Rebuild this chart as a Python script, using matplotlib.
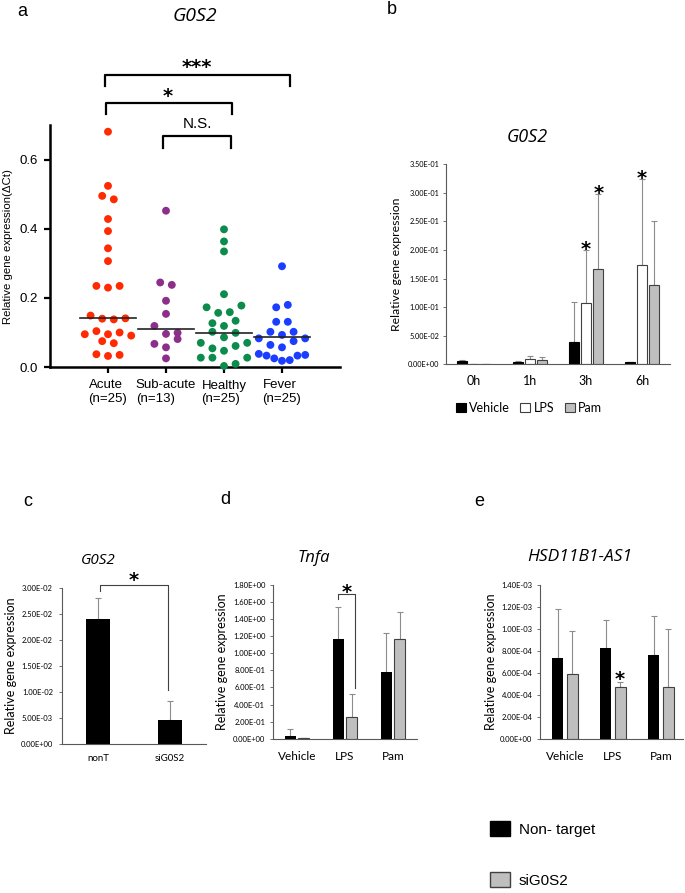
import numpy as np
import matplotlib
matplotlib.use("Agg")
import matplotlib.pyplot as plt
from matplotlib.patches import Patch
from matplotlib.ticker import FormatStrFormatter

plt.rcParams['font.family'] = ['Lato', 'DejaVu Sans']

# panel a: scatter of relative expression, listed row by row, left to right
a_labels = ['Acute\n(n=25)', 'Sub-acute\n(n=13)', 'Healthy\n(n=25)', 'Fever\n(n=25)']
a_colors = ['#ff2a00', '#8b2f8b', '#0c8c4c', '#1a3dff']
acute = [0.682, 0.525, 0.496, 0.486, 0.429, 0.394, 0.344, 0.307,
         0.235, 0.230, 0.235, 0.149, 0.140, 0.138, 0.141,
         0.095, 0.104, 0.095, 0.100, 0.091, 0.075, 0.069,
         0.037, 0.032, 0.035]
subacute = [0.453, 0.245, 0.238, 0.192, 0.154, 0.119, 0.096, 0.099,
            0.067, 0.057, 0.081, 0.025]
healthy = [0.399, 0.364, 0.335, 0.211, 0.173, 0.157, 0.159, 0.178,
           0.127, 0.119, 0.134, 0.102, 0.086, 0.099,
           0.070, 0.054, 0.047, 0.061, 0.070,
           0.027, 0.027, 0.003, 0.009, 0.027]
fever = [0.292, 0.173, 0.180, 0.131, 0.131,
         0.083, 0.102, 0.093, 0.102, 0.083, 0.064, 0.057, 0.075,
         0.038, 0.033, 0.025, 0.018, 0.020, 0.033, 0.035]
a_medians = [0.141, 0.109, 0.100, 0.088]

# panel b: time course
b_times = ['0h', '1h', '3h', '6h']
b_series = ['Vehicle', 'LPS', 'Pam']
veh = [0.0064, 0.0047, 0.0397, 0.0035]
veh_err = [0.0012, 0.0005, 0.070, 0.0]
lps = [0.0, 0.0088, 0.1068, 0.174]
lps_err = [0.0, 0.0058, 0.093, 0.150]
pam = [0.0, 0.0082, 0.1674, 0.139]
pam_err = [0.0, 0.0052, 0.130, 0.111]

# panel c
c_cats = ['nonT', 'siG0S2']
c_vals = [0.0241, 0.00456]
c_err = [0.0040, 0.0037]

# panels d, e
de_cats = ['Vehicle', 'LPS', 'Pam']
d_nt = [0.03, 1.169, 0.785]
d_nt_err = [0.08, 0.379, 0.458]
d_si = [0.007, 0.25, 1.165]
d_si_err = [0.0, 0.27, 0.324]
e_nt = [0.736e-3, 0.824e-3, 0.766e-3]
e_nt_err = [0.449e-3, 0.263e-3, 0.351e-3]
e_si = [0.585e-3, 0.470e-3, 0.470e-3]
e_si_err = [0.398e-3, 0.045e-3, 0.528e-3]

W, H = 685, 893
fig = plt.figure(figsize=(W / 100, H / 100), dpi=100)


def box(l, t, r, b):
    return [l / W, 1 - b / H, (r - l) / W, (b - t) / H]


def fpos(x, y):
    return x / W, 1 - y / H


def swarm(vals, row=0.025, step=0.2, half=0.4):
    # bin points into rows of near-equal value, spread each row symmetrically
    order = sorted(range(len(vals)), key=lambda i: -vals[i])
    rows = []
    for i in order:
        if rows and vals[rows[-1][0]] - vals[i] < row:
            rows[-1].append(i)
        else:
            rows.append([i])
    offs = np.zeros(len(vals))
    for r in rows:
        r = sorted(r)
        n = len(r)
        d = step if n < 2 else min(step, 2 * half / (n - 1))
        for k, i in enumerate(r):
            offs[i] = (k - (n - 1) / 2) * d
    return offs


def excel_axes(ax, top, step, fs=5.5, pad=3.5):
    ax.set_ylim(0, top)
    ax.set_yticks(np.arange(0, top + step / 2, step))
    ax.yaxis.set_major_formatter(FormatStrFormatter('%.2E'))
    for s in ['top', 'right']:
        ax.spines[s].set_visible(False)
    for s in ['left', 'bottom']:
        ax.spines[s].set_color('#595959')
        ax.spines[s].set_linewidth(0.8)
    ax.tick_params(axis='y', labelsize=fs, length=2, width=0.6,
                   color='#595959', pad=pad)
    ax.tick_params(axis='x', length=0, labelsize=8.5, pad=9)


def star(ax, x, y, size=14):
    ax.annotate('*', (x, y), xytext=(0, -5), textcoords='offset points',
                ha='center', va='center', fontsize=size, fontweight='bold',
                family='DejaVu Sans', annotation_clip=False)


# ---------------- a ----------------
ax = fig.add_axes(box(50, 125.5, 340, 367))
for i, vals in enumerate([acute, subacute, healthy, fever]):
    ax.scatter(i + 1 + swarm(vals), vals, s=32, color=a_colors[i],
               edgecolors='none', clip_on=False, zorder=3)
    ax.plot([i + 0.51, i + 1.49], [a_medians[i]] * 2, color='#222222',
            lw=1.2, zorder=4)
ax.set_xlim(0, 5)
ax.set_ylim(0, 0.7)
ax.set_yticks([0, 0.2, 0.4, 0.6])
ax.set_yticklabels(['0.0', '0.2', '0.4', '0.6'], family='Liberation Sans')
ax.set_xticks([1, 2, 3, 4])
ax.set_xticklabels(a_labels, family='Liberation Sans', multialignment='left')
for s in ['top', 'right']:
    ax.spines[s].set_visible(False)
for s in ['left', 'bottom']:
    ax.spines[s].set_linewidth(1.8)
ax.tick_params(length=4, width=1.6, labelsize=9.5, pad=5)
ax.set_ylabel('Relative gene expression(ΔCt)', family='Liberation Sans',
              fontsize=8.2)
ax.yaxis.set_label_coords(-0.128, 0.5)
for (x0, x1, yt, yb, txt, tx, ty, fs) in [
        (0.95, 4.13, 0.846, 0.814, '***', 2.53, 0.887, 14),
        (0.96, 3.14, 0.765, 0.733, '*', 2.03, 0.803, 14)]:
    ax.plot([x0, x0, x1, x1], [yb, yt, yt, yb], color='black', lw=1.6,
            clip_on=False)
    ax.annotate(txt, (tx, ty), xytext=(0, -5), textcoords='offset points',
                ha='center', va='center', fontsize=fs, fontweight='bold',
                family='DejaVu Sans', annotation_clip=False)
ax.plot([1.95, 1.95, 3.12, 3.12], [0.635, 0.670, 0.670, 0.635],
        color='black', lw=1.6, clip_on=False)
ax.text(2.55, 0.704, 'N.S.', ha='center', va='center', fontsize=11,
        family='Liberation Sans')
fig.text(*fpos(50 + 145, 16), 'G0S2', ha='center', va='center',
         fontsize=14, style='italic', family='Open Sans')
fig.text(*fpos(22, 12), 'a', ha='center', va='center', fontsize=13,
         family='Liberation Sans')

# ---------------- b ----------------
ax = fig.add_axes(box(446, 164.3, 670, 364.3))
xb = np.arange(len(b_times))
b_style = [('black', 'black'), ('white', '#404040'), ('#bfbfbf', '#404040')]
b_vals = [veh, lps, pam]
b_errs = [veh_err, lps_err, pam_err]
for k in range(3):
    xs = xb + (k - 1) * 0.22
    ax.bar(xs, b_vals[k], 0.18, color=b_style[k][0], edgecolor=b_style[k][1],
           lw=0.8, label=b_series[k], zorder=2)
    ax.errorbar(xs, b_vals[k], yerr=[np.zeros(4), b_errs[k]], fmt='none',
                ecolor='#8c8c8c', elinewidth=0.8, capsize=2, capthick=0.8,
                zorder=1)
excel_axes(ax, 0.35, 0.05, fs=5.3, pad=3)
ax.set_xlim(-0.5, 3.5)
ax.set_xticks(xb)
ax.set_xticklabels(b_times, fontsize=9)
ax.tick_params(axis='x', pad=8)
ax.set_ylabel('Relative gene expression', fontsize=8.8)
ax.yaxis.set_label_coords(-0.196, 0.5)
for (t, k) in [(2, 1), (2, 2), (3, 1)]:
    star(ax, t + (k - 1) * 0.22, b_vals[k][t] + b_errs[k][t] + 0.013)
fig.legend(loc='center', bbox_to_anchor=fpos(529, 408), ncol=3,
           frameon=False, fontsize=9, handlelength=0.8, handleheight=0.8,
           handletextpad=0.3, columnspacing=0.8)
fig.text(*fpos(527, 137), 'G0S2', ha='center', va='center', fontsize=13,
         style='italic', family='Open Sans')
fig.text(*fpos(392, 10), 'b', ha='center', va='center', fontsize=13,
         family='Liberation Sans')

# ---------------- c ----------------
ax = fig.add_axes(box(62, 588, 206, 744))
xc = np.arange(len(c_cats))
ax.bar(xc, c_vals, 0.32, color='black', zorder=2)
ax.errorbar(xc, c_vals, yerr=[np.zeros(2), c_err], fmt='none',
            ecolor='#8c8c8c', elinewidth=0.8, capsize=2, capthick=0.8, zorder=1)
excel_axes(ax, 0.03, 0.005, pad=4.5)
ax.set_xlim(-0.5, 1.5)
ax.set_xticks(xc)
ax.set_xticklabels(c_cats, fontsize=7)
ax.tick_params(axis='x', pad=7)
ax.set_ylabel('Relative gene expression', fontsize=9)
ax.yaxis.set_label_coords(-0.3125, 0.5)
ax.plot([0.03, 0.03, 0.97, 0.97], [0.0294, 0.0305, 0.0305, 0.0103],
        color='#404040', lw=0.8, clip_on=False)
star(ax, 0.49, 0.0327)
fig.text(*fpos(98, 560), 'G0S2', ha='center', va='center', fontsize=11,
         style='italic', family='Open Sans')
fig.text(*fpos(28, 502), 'c', ha='center', va='center', fontsize=13,
         family='Liberation Sans')

# ---------------- d, e ----------------
xd = np.arange(len(de_cats))
for (ax_box, nt, nt_err, si, si_err, top, step, off, wd, xlim) in [
        ((273, 585, 417, 738.7), d_nt, d_nt_err, d_si, d_si_err, 1.8, 0.2,
         0.14, 0.22, (-0.5, 2.5)),
        ((540, 585.3, 683, 738.5), e_nt, e_nt_err, e_si, e_si_err, 1.4e-3,
         2e-4, 0.15, 0.23, (-0.52, 2.46))]:
    ax = fig.add_axes(box(*ax_box))
    ax.bar(xd - off, nt, wd, color='black', zorder=2)
    ax.bar(xd + off, si, wd, color='#bfbfbf', edgecolor='#404040', lw=0.8,
           zorder=2)
    ax.errorbar(xd - off, nt, yerr=[np.zeros(3), nt_err], fmt='none',
                ecolor='#8c8c8c', elinewidth=0.8, capsize=2, capthick=0.8,
                zorder=1)
    ax.errorbar(xd + off, si, yerr=[np.zeros(3), si_err], fmt='none',
                ecolor='#8c8c8c', elinewidth=0.8, capsize=2, capthick=0.8,
                zorder=1)
    excel_axes(ax, top, step, pad=3.5)
    ax.set_xlim(*xlim)
    ax.set_xticks(xd)
    ax.set_xticklabels(de_cats)
    ax.set_ylabel('Relative gene expression', fontsize=9)
    if top > 1:
        ax_d = ax
    else:
        ax_e = ax

ax_d.yaxis.set_label_coords(-0.3125, 0.5)
ax_d.plot([0.85, 0.85, 1.2, 1.2], [1.634, 1.70, 1.70, 0.598],
          color='#404040', lw=0.8, clip_on=False)
star(ax_d, 1.03, 1.79)
fig.text(*fpos(314, 557.7), 'Tnfa', ha='center', va='center', fontsize=12,
         style='italic', family='Open Sans')
fig.text(*fpos(225, 499), 'd', ha='center', va='center', fontsize=13,
         family='Liberation Sans')

ax_e.yaxis.set_label_coords(-0.30, 0.5)
star(ax_e, 1.15, 0.607e-3)
fig.text(*fpos(580, 557), 'HSD11B1-AS1', ha='center', va='center',
         fontsize=12.5, style='italic', family='Open Sans')
fig.text(*fpos(479, 502), 'e', ha='center', va='center', fontsize=13,
         family='Liberation Sans')

fig.legend(handles=[Patch(fc='black', ec='black'),
                    Patch(fc='#bfbfbf', ec='#404040')],
           labels=['Non- target', 'siG0S2'], loc='upper left',
           bbox_to_anchor=fpos(490, 821), frameon=False,
           prop={'family': 'Liberation Sans', 'size': 11},
           handlelength=1.3, handleheight=1.15, handletextpad=0.6,
           labelspacing=2.3, borderpad=0, borderaxespad=0)

fig.savefig('out.png', dpi=100)
